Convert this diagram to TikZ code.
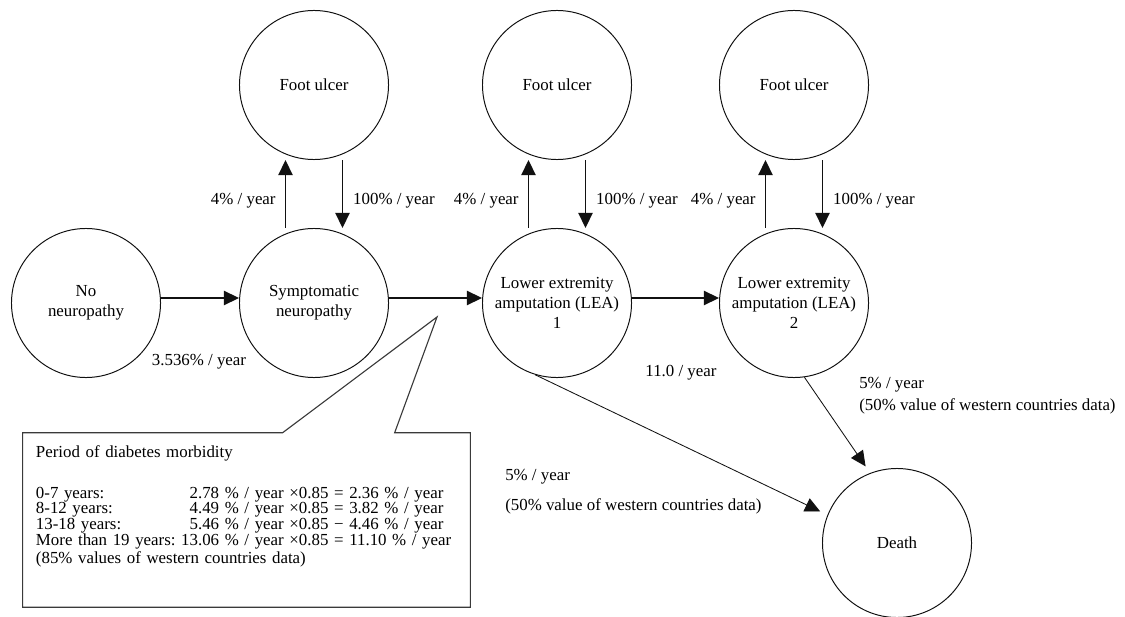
\documentclass[tikz,border=0pt]{standalone}
\usepackage{fontspec}
\setmainfont{Liberation Serif}
\usepackage{tikz}
\usetikzlibrary{arrows.meta,positioning,calc}
\definecolor{ln}{HTML}{111111}
\definecolor{bx}{HTML}{3A3A3A}
\newcommand{\fs}{\fontsize{12}{14.2}\selectfont}
\newcommand{\fb}{\fontsize{12}{10.4}\selectfont}

\begin{document}
\begin{tikzpicture}[x=0.025cm,y=-0.025cm,
  sc/.style={circle,draw=ln,line width=0.7pt,minimum size=3.725cm,inner sep=0pt,align=center,font=\fs},
  lb/.style={inner sep=0pt,font=\fs},
  a/.style={-{Triangle[length=3.8mm,width=3.6mm]},line width=1pt,draw=ln},
  d/.style={-{Triangle[length=3.8mm,width=3.6mm]},line width=0.6pt,draw=ln,shorten >=2mm},
  bxl/.style={draw=bx,line width=0.8pt}]
\useasboundingbox (0,0) rectangle (1125,617);
% states
\node[sc](nn) at (86,303){No\\neuropathy};
\node[sc](sn) at (314,303){Symptomatic\\neuropathy};
\node[sc](la1) at (557,303){Lower extremity\\amputation (LEA)\\1};
\node[sc](la2) at (794,303){Lower extremity\\amputation (LEA)\\2};
\node[sc](fu1) at (314,85){Foot ulcer};
\node[sc](fu2) at (557,85){Foot ulcer};
\node[sc](fu3) at (794,85){Foot ulcer};
\node[sc](dth) at (897,543){Death};
% transitions
\foreach \i/\j in {nn/sn,sn/la1,la1/la2}
  \draw[a]($(\i.east)+(0,-5)$)--($(\j.west)+(0,-5)$);
\foreach \i/\j in {sn/fu1,la1/fu2,la2/fu3}{
  \draw[a]($(\i.north)+(-28.5,0)$)coordinate(p)--(p|-\j.south)
    node[lb,pos=0.4,left=2.3mm]{4\% / year};
  \draw[a]($(\j.south)+(28.5,0)$)coordinate(q)--(q|-\i.north)
    node[lb,pos=0.6,right=2.5mm]{100\% / year};
}
\draw[d](la1.253)--(dth.158);
\draw[d](la2.278)--(dth.111);
% rates
\node[lb](r1) at (199,362){3.536\% / year};
\node[lb](r2) at (681,373){11.0 / year};
\node[lb,align=left,anchor=west](r3) at (505,492){5\% / year\\[7pt](50\% value of western countries data)};
\node[lb,align=left,anchor=west](r4) at (859,396){5\% / year\\[1.4pt](50\% value of western countries data)};
% morbidity box
\node[lb,font=\fb,text width=10.525cm,minimum height=4.35cm,inner xsep=0.325cm,align=left](prd) at (246.5,520){%
\begin{tabular}{@{}l@{\ }r@{}l@{}}
\multicolumn{3}{@{}l@{}}{Period of diabetes morbidity}\\[18pt]
0-7 years: & 2.78 & \ \% / year\ ×0.85 = 2.36 \% / year\\
8-12 years: & 4.49 & \ \% / year\ ×0.85 = 3.82 \% / year\\
13-18 years: & 5.46 & \ \% / year\ ×0.85 − 4.46 \% / year\\
More than 19 years: & 13.06 & \ \% / year\ ×0.85 = 11.10 \% / year\\[1pt]
\multicolumn{3}{@{}l@{}}{(85\% values of western countries data)}\\[19pt]
\end{tabular}};
\coordinate(tip) at (437,317);
\draw[bxl](prd.north west)--++(260,0)--(tip)--($(prd.north west)+(372,0)$)--(prd.north east)|-(prd.south west)--cycle;
\end{tikzpicture}
\end{document}
